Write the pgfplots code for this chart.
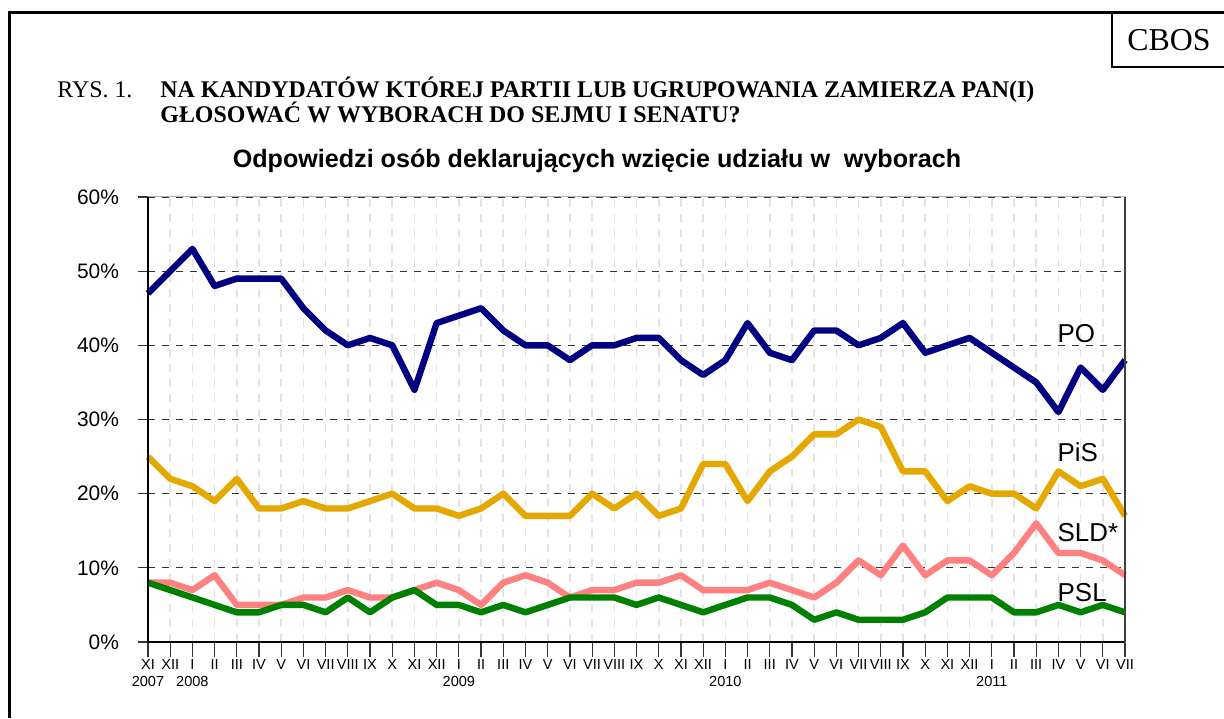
\documentclass[border=0pt]{standalone}
\usepackage{pgfplots}
\pgfplotsset{compat=1.18}
\usepackage{pgfplotstable}
\usepackage{fontspec}
\setmainfont{Liberation Serif}
\newfontfamily\arial{Liberation Sans}
\definecolor{cPO}{RGB}{0,0,128}
\definecolor{cPiS}{RGB}{228,168,0}
\definecolor{cSLD}{RGB}{255,128,128}
\definecolor{cPSL}{RGB}{0,128,0}
\pgfplotstableread{
x PO PiS SLD PSL
0 47 25 8 8
1 50 22 8 7
2 53 21 7 6
3 48 19 9 5
4 49 22 5 4
5 49 18 5 4
6 49 18 5 5
7 45 19 6 5
8 42 18 6 4
9 40 18 7 6
10 41 19 6 4
11 40 20 6 6
12 34 18 7 7
13 43 18 8 5
14 44 17 7 5
15 45 18 5 4
16 42 20 8 5
17 40 17 9 4
18 40 17 8 5
19 38 17 6 6
20 40 20 7 6
21 40 18 7 6
22 41 20 8 5
23 41 17 8 6
24 38 18 9 5
25 36 24 7 4
26 38 24 7 5
27 43 19 7 6
28 39 23 8 6
29 38 25 7 5
30 42 28 6 3
31 42 28 8 4
32 40 30 11 3
33 41 29 9 3
34 43 23 13 3
35 39 23 9 4
36 40 19 11 6
37 41 21 11 6
38 39 20 9 6
39 37 20 12 4
40 35 18 16 4
41 31 23 12 5
42 37 21 12 4
43 34 22 11 5
44 38 17 9 4
}\data
\begin{document}
\begin{tikzpicture}
\begin{scope}[x=0.5bp,y=0.5bp]
\path[use as bounding box] (0,0) rectangle (1224,718);
\draw[line width=1.5bp] (9,0) -- (9,705) -- (1224,705);
\draw[line width=1bp] (1112,705) -- (1112,651) -- (1224,651);
\node[font=\fontsize{16}{18}\selectfont] at (1169,678) {CBOS};
\node[anchor=base west,inner sep=0pt,font=\fontsize{12}{14}\selectfont] at (57,620) {RYS. 1.};
\node[anchor=base west,inner sep=0pt,font=\fontsize{12}{14}\selectfont\bfseries] at (160,620) {NA KANDYDATÓW KTÓREJ PARTII LUB UGRUPOWANIA ZAMIERZA PAN(I)};
\node[anchor=base west,inner sep=0pt,font=\fontsize{12}{14}\selectfont\bfseries] at (160,595) {GŁOSOWAĆ W WYBORACH DO SEJMU I SENATU?};
\node[anchor=base,inner sep=0pt,font=\arial\fontsize{12.6}{14}\selectfont\bfseries] at (597,550) {Odpowiedzi osób deklarujących wzięcie udziału w\ \ wyborach};
\end{scope}
\begin{axis}[
  at={(74bp,38bp)}, anchor=south west,
  width=488.5bp, height=222.5bp, scale only axis,
  xmin=0, xmax=44, ymin=0, ymax=60,
  clip=false,
  axis line style={draw=gray!60, line width=0.5bp},
  xtick={0,...,44},
  xticklabels={{XI\\2007},XII,{I\\2008},II,III,IV,V,VI,VII,VIII,IX,X,XI,XII,{I\\2009},II,III,IV,V,VI,VII,VIII,IX,X,XI,XII,{I\\2010},II,III,IV,V,VI,VII,VIII,IX,X,XI,XII,{I\\2011},II,III,IV,V,VI,VII},
  xticklabel style={align=center, font=\arial\fontsize{7.3}{8.5}\selectfont, inner sep=1bp},
  ytick={0,10,...,60},
  yticklabels={0\%,10\%,20\%,30\%,40\%,50\%,60\%},
  yticklabel style={font=\arial\fontsize{10.5}{12}\selectfont, xshift=-3.5bp},
  xtick pos=bottom, ytick pos=left,
  tick align=outside,
  major tick length=7.5bp,
  x tick style={draw=black!80, line width=0.6bp},
  y tick style={draw=none},
  xmajorgrids, ymajorgrids,
  x grid style={draw=gray!22, line width=0.8bp, dash pattern=on 4bp off 3.5bp},
  y grid style={draw=black!80, line width=0.6bp, dash pattern=on 3.5bp off 3.5bp},
]
\addplot[cPO, line width=3.2bp, line join=round] table[x=x,y=PO] {\data};
\addplot[cPiS, line width=3.2bp, line join=round] table[x=x,y=PiS] {\data};
\addplot[cSLD, line width=3.2bp, line join=round] table[x=x,y=SLD] {\data};
\addplot[cPSL, line width=3.2bp, line join=round] table[x=x,y=PSL] {\data};
\pgfplotsinvokeforeach{0,10,20,30,40,50,60}{
  \draw[black!80, line width=0.6bp] (axis cs:0,#1) -- ++(-5bp,0);
}
\draw[black, line width=1bp] (rel axis cs:0,0) -- (rel axis cs:0,1);
\draw[black, line width=1bp] (rel axis cs:0,0) -- (rel axis cs:1,0);
\draw[black!75, line width=1bp] (rel axis cs:1,0) -- (rel axis cs:1,1);
\node[anchor=west, font=\arial\fontsize{13}{15}\selectfont, inner sep=0pt] at (axis cs:40.95,41.6) {PO};
\node[anchor=west, font=\arial\fontsize{13}{15}\selectfont, inner sep=0pt] at (axis cs:40.95,25.6) {PiS};
\node[anchor=west, font=\arial\fontsize{13}{15}\selectfont, inner sep=0pt] at (axis cs:40.95,14.7) {SLD*};
\node[anchor=west, font=\arial\fontsize{13}{15}\selectfont, inner sep=0pt] at (axis cs:40.95,6.7) {PSL};
\end{axis}
\end{tikzpicture}
\end{document}
